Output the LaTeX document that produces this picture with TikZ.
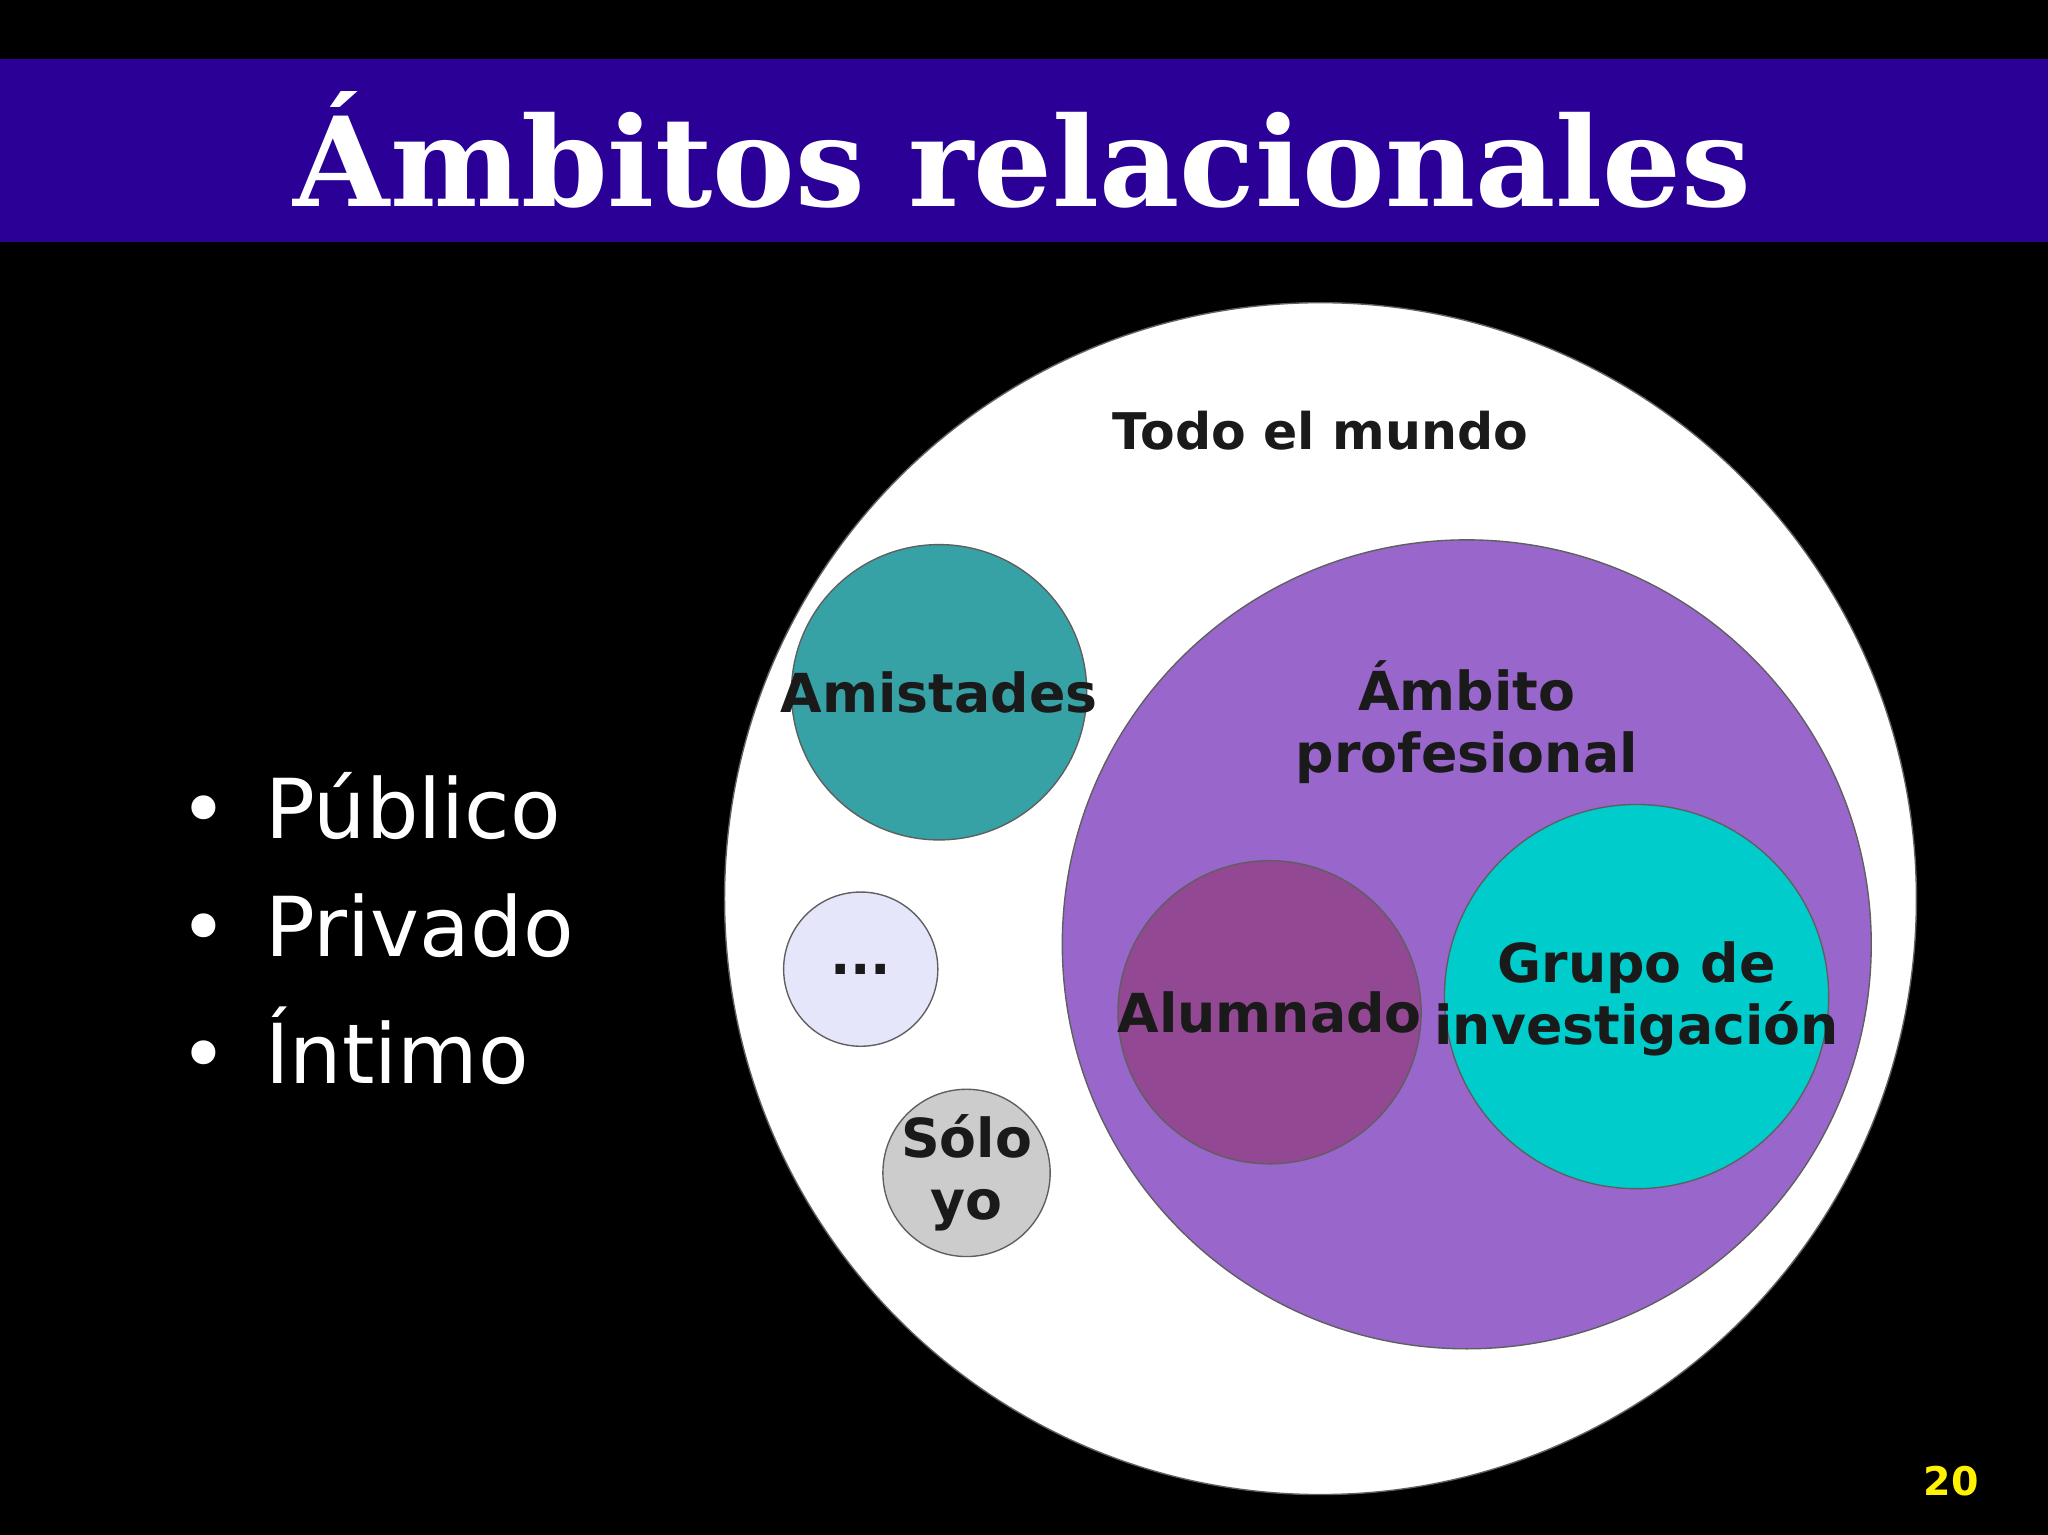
\documentclass[tikz,border=0pt]{standalone}
\usepackage{fontspec}
\setmainfont{DejaVu Sans}
\newfontfamily\serifb{DejaVu Serif}
\definecolor{barblue}{HTML}{2A0096}
\definecolor{teal1}{HTML}{36A2A6}
\definecolor{purp}{HTML}{9966CC}
\definecolor{plum}{HTML}{924892}
\definecolor{cyan1}{HTML}{00CCCC}
\definecolor{lav}{HTML}{E6E6FA}
\definecolor{grey1}{HTML}{CCCCCC}
\definecolor{ink}{HTML}{1A1A1A}
\tikzset{circ/.style={draw=ink!70,line width=0.3pt},
 lbl/.style={font=\fontsize{11.7}{13.5}\selectfont\bfseries,text=ink,align=center},
 bul/.style={font=\fontsize{18}{20}\selectfont,text=white,anchor=west}}
\begin{document}
\begin{tikzpicture}[x=0.01cm,y=-0.01cm]
\fill[black] (0,0) rectangle (1568,1175);
\useasboundingbox (0,0) rectangle (1568,1175);
\fill[barblue] (0,45) rectangle (1568,185);
\node[font=\serifb\fontsize{27}{30}\selectfont\bfseries,text=white] (title) at (783,115) {Ámbitos relacionales};
\filldraw[circ,fill=white] (1011,688) circle (4.56cm);
\node[lbl,font=\fontsize{11}{13}\selectfont\bfseries] (todo) at (1011,330) {Todo el mundo};
\filldraw[circ,fill=teal1] (719,530) circle (1.13cm);
\node[lbl] (ami) at (719,530) {Amistades};
\filldraw[circ,fill=purp] (1123,723) circle (3.095cm);
\node[lbl] (prof) at (1123,553) {Ámbito\\profesional};
\filldraw[circ,fill=plum] (972,775) circle (1.16cm);
\node[lbl] (alu) at (972,775) {Alumnado};
\filldraw[circ,fill=cyan1] (1253,763) circle (1.47cm);
\node[lbl] (grupo) at (1253,765) {Grupo de\\investigación};
\filldraw[circ,fill=lav] (659,742) circle (0.59cm);
\node[lbl] (dots) at (659,742) {...};
\filldraw[circ,fill=grey1] (740,898) circle (0.64cm);
\node[lbl] (solo) at (740,898) {Sólo\\yo};
\node[bul] (b1) at (125,617) {•\hspace{0.45em}Público};
\node[bul] (b2) at (125,709) {•\hspace{0.45em}Privado};
\node[bul] (b3) at (125,801) {•\hspace{0.45em}Íntimo};
\node[font=\fontsize{8.6}{10}\selectfont\bfseries,text=yellow] (num) at (1494,1134) {20};
\end{tikzpicture}
\end{document}
